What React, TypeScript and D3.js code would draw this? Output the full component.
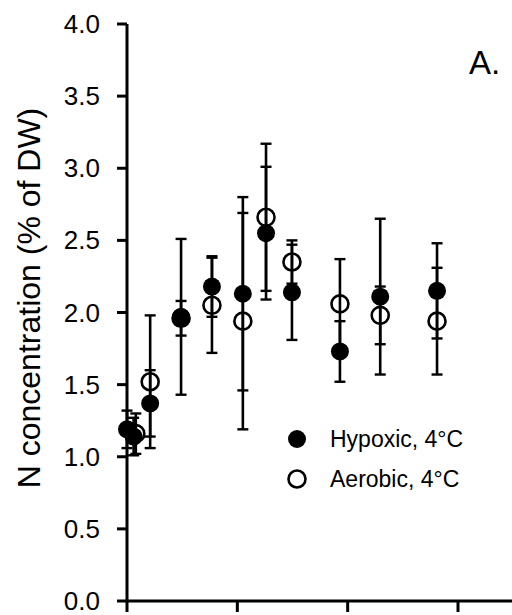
import React from "react";
import * as d3 from "d3";

const yTicks = [0.0, 0.5, 1.0, 1.5, 2.0, 2.5, 3.0, 3.5, 4.0];
const xTicks = [0, 20, 40, 60];

const hypoxicDay = [0, 1.2, 4.2, 9.8, 15.4, 21, 25.2, 29.9, 38.6, 45.9, 56.2];
const hypoxicN = [1.19, 1.14, 1.37, 1.97, 2.18, 2.13, 2.55, 2.14, 1.73, 2.11, 2.15];
const hypoxicErr = [0.13, 0.13, 0.23, 0.54, 0.21, 0.67, 0.46, 0.33, 0.21, 0.54, 0.33];

const aerobicDay = [1.6, 4.2, 9.8, 15.4, 21, 25.2, 29.9, 38.6, 45.9, 56.2];
const aerobicN = [1.16, 1.52, 1.96, 2.05, 1.94, 2.66, 2.35, 2.06, 1.98, 1.94];
const aerobicErr = [0.14, 0.46, 0.12, 0.33, 0.75, 0.51, 0.15, 0.31, 0.2, 0.37];

const legendLabels = ["Hypoxic, 4°C", "Aerobic, 4°C"];
const yTitle = "N concentration (% of DW)";
const panelLabel = "A.";

const W = 512;
const H = 615;
const FONT = "'Liberation Sans', Arial, sans-serif";

export default function App() {
  const x = d3.scaleLinear().domain([0, 60]).range([127, 458]);
  const y = d3.scaleLinear().domain([0, 4]).range([601, 24]);
  const x0 = x(0);
  const y0 = y(0);
  const capW = 5.5;
  const r = 9;

  const hyp = hypoxicDay.map((d, i) => ({ d, v: hypoxicN[i], e: hypoxicErr[i] }));
  const aer = aerobicDay.map((d, i) => ({ d, v: aerobicN[i], e: aerobicErr[i] }));

  const errBars = (data: { d: number; v: number; e: number }[], key: string) =>
    data.map((p, i) => {
      const cx = x(p.d);
      const yt = y(p.v + p.e);
      const yb = y(p.v - p.e);
      return (
        <g key={key + i} stroke="#000">
          <line x1={cx} x2={cx} y1={yt} y2={yb} strokeWidth={2.6} />
          <line x1={cx - capW} x2={cx + capW} y1={yt} y2={yt} strokeWidth={2.4} />
          <line x1={cx - capW} x2={cx + capW} y1={yb} y2={yb} strokeWidth={2.4} />
        </g>
      );
    });

  return (
    <svg width={W} height={H} style={{ position: "absolute", left: 0, top: 0, background: "#fff" }}>
      <rect x={0} y={0} width={W} height={H} fill="#fff" />
      <line x1={x0} x2={x0} y1={y(4)} y2={y0 + 1.5} stroke="#000" strokeWidth={3} />
      <line x1={x0 - 1.5} x2={W} y1={y0} y2={y0} stroke="#000" strokeWidth={3} />
      {yTicks.map((t) => (
        <g key={"yt" + t}>
          <line x1={x0 - 10} x2={x0} y1={y(t)} y2={y(t)} stroke="#000" strokeWidth={3} />
          <text
            x={100}
            y={y(t)}
            textAnchor="end"
            dominantBaseline="central"
            fontFamily={FONT}
            fontSize={26}
            fill="#000"
          >
            {t.toFixed(1)}
          </text>
        </g>
      ))}
      {xTicks.map((t) => (
        <line key={"xt" + t} x1={x(t)} x2={x(t)} y1={y0} y2={y0 + 11} stroke="#000" strokeWidth={3} />
      ))}
      <text
        transform={`translate(29, 298) rotate(-90)`}
        textAnchor="middle"
        dominantBaseline="central"
        fontFamily={FONT}
        fontSize={32}
        fill="#000"
      >
        {yTitle}
      </text>
      <text x={469} y={74} fontFamily={FONT} fontSize={33} fill="#000">
        {panelLabel}
      </text>

      {aer.map((p, i) => (
        <circle key={"ao" + i} cx={x(p.d)} cy={y(p.v)} r={r - 0.5} fill="none" stroke="#000" strokeWidth={2.6} />
      ))}
      {errBars(aer, "ae")}
      {errBars(hyp, "he")}
      {hyp.map((p, i) => (
        <circle key={"hf" + i} cx={x(p.d)} cy={y(p.v)} r={r} fill="#000" />
      ))}

      <circle cx={297} cy={439} r={r} fill="#000" />
      <circle cx={297} cy={479} r={r - 0.5} fill="none" stroke="#000" strokeWidth={2.6} />
      <text x={330} y={439} dominantBaseline="central" fontFamily={FONT} fontSize={23} fill="#000">
        {legendLabels[0]}
      </text>
      <text x={330} y={479} dominantBaseline="central" fontFamily={FONT} fontSize={23} fill="#000">
        {legendLabels[1]}
      </text>
    </svg>
  );
}
